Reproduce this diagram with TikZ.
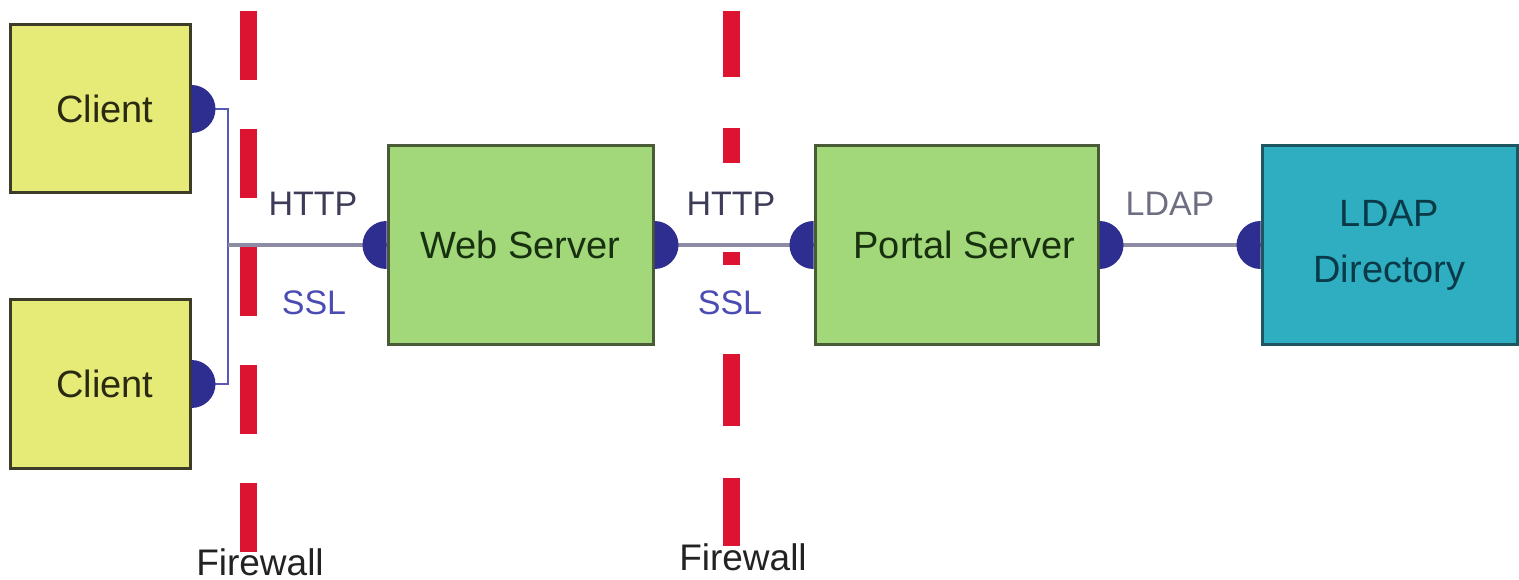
\documentclass[tikz,border=0pt]{standalone}
\usepackage{fontspec}
\setmainfont{Liberation Sans}
\begin{document}
\begin{tikzpicture}[x=1pt,y=-1pt,
  boxbase/.style={draw, line width=3pt, rectangle, inner sep=0pt, font=\fontsize{38}{44}\selectfont, align=center},
  clientbox/.style={boxbase, fill=clientfill, draw=clientedge, text=clienttext, minimum width=180pt, minimum height=168pt},
  serverbox/.style={boxbase, fill=serverfill, draw=serveredge, text=servertext, minimum height=198pt},
  ldapbox/.style={boxbase, fill=ldapfill, draw=ldapedge, text=ldaptext, minimum width=255pt, minimum height=198pt},
  conn/.style={draw=connc, line width=4pt},
  bracket/.style={draw=bracketc, line width=2pt},
  fwdash/.style={draw=fwred, line width=17pt},
  dotc/.style={fill=dotblue},
  proto/.style={font=\fontsize{34}{40}\selectfont, inner sep=0pt},
  fwlabel/.style={font=\fontsize{37}{42}\selectfont, text=fwtext, inner sep=0pt}
]
\definecolor{clientfill}{HTML}{E6EB78}
\definecolor{clientedge}{HTML}{3C3C28}
\definecolor{clienttext}{HTML}{2A2A12}
\definecolor{serverfill}{HTML}{A2D87A}
\definecolor{serveredge}{HTML}{485A36}
\definecolor{servertext}{HTML}{163010}
\definecolor{ldapfill}{HTML}{2EAEC0}
\definecolor{ldapedge}{HTML}{1D5560}
\definecolor{ldaptext}{HTML}{0A3A48}
\definecolor{connc}{HTML}{8C8CA5}
\definecolor{bracketc}{HTML}{5858B8}
\definecolor{fwred}{HTML}{DC1432}
\definecolor{dotblue}{HTML}{2E2E90}
\definecolor{httpc}{HTML}{3C3C58}
\definecolor{sslc}{HTML}{4B4BB4}
\definecolor{ldaplc}{HTML}{6E6E82}
\definecolor{fwtext}{HTML}{222222}

\useasboundingbox (0,0) rectangle (1519,580);

% firewalls
\foreach \a/\b in {11/80,129/198,247/316,365/434,483/552}
  \draw[fwdash] (248.5,\a) -- (248.5,\b);
\foreach \a/\b in {11/77,128/163,252/265,354/426,478/546}
  \draw[fwdash] (731.5,\a) -- (731.5,\b);
\node[fwlabel] (fw1) at (260,562) {Firewall};
\node[fwlabel] (fw2) at (743,557) {Firewall};

% boxes
\node[clientbox] (c1) at (100,109) {\hspace*{10pt}\raisebox{-4pt}{Client}};
\node[clientbox] (c2) at (100,384) {\hspace*{10pt}\raisebox{-4pt}{Client}};
\node[serverbox, minimum width=265pt] (web) at (520.5,245) {Web Server};
\node[serverbox, minimum width=283pt] (portal) at (956.5,245) {\hspace*{16pt}Portal Server};
\node[ldapbox] (ldap) at (1389.5,245) {LDAP\\[12pt]Directory};

% connectors
\coordinate (j) at (228,245);
\draw[bracket] (c1.east) -- (228,109) -- (228,384) -- (c2.east);
\draw[conn] (j) -- (web.west);
\draw[conn] (web.east) -- (portal.west);
\draw[conn] (portal.east) -- (ldap.west);

% dots
\newcommand\dotRight[1]{\fill[dotc] (#1) ++(0pt,24pt) arc[start angle=90,end angle=-90,radius=24pt] -- cycle;}
\newcommand\dotLeft[1]{\fill[dotc] (#1) ++(0pt,24pt) arc[start angle=90,end angle=270,radius=24pt] -- cycle;}
\dotRight{c1.east}
\dotRight{c2.east}
\dotLeft{web.west}
\dotRight{web.east}
\dotLeft{portal.west}
\dotRight{portal.east}
\dotLeft{ldap.west}

% protocol labels
\node[proto, text=httpc] (h1) at (313,204) {HTTP};
\node[proto, text=sslc] (s1) at (314,303) {SSL};
\node[proto, text=httpc] (h2) at (731,204) {HTTP};
\node[proto, text=sslc] (s2) at (730,303) {SSL};
\node[proto, text=ldaplc] (l1) at (1170,204) {LDAP};
\end{tikzpicture}
\end{document}
